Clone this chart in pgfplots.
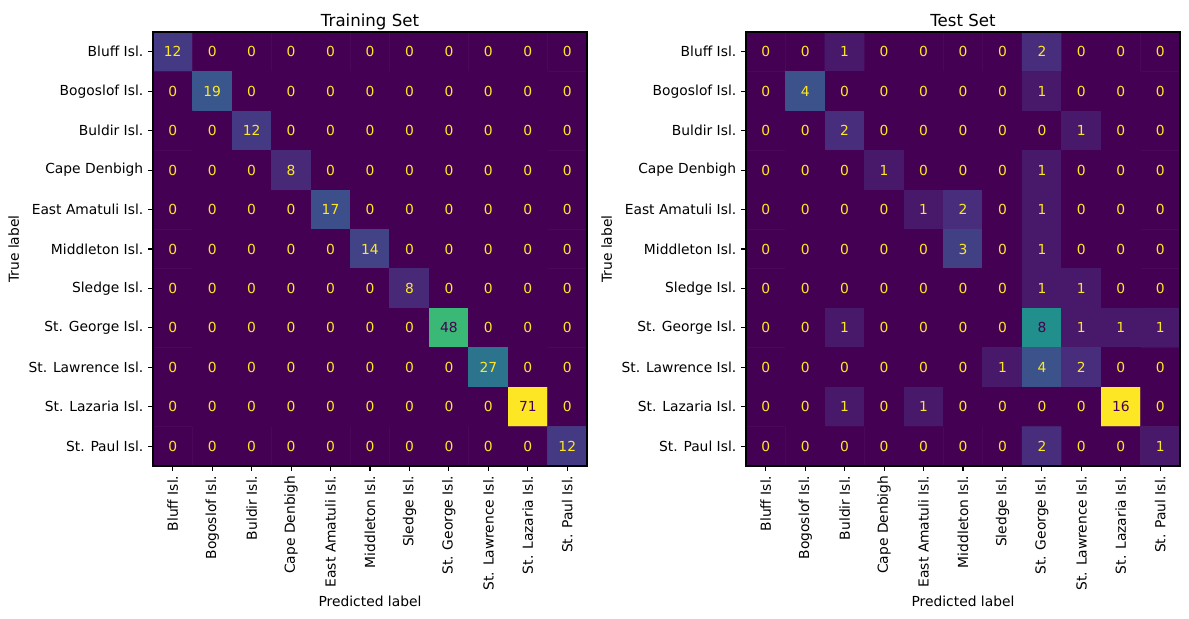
\documentclass[border=0pt]{standalone}
\usepackage{pgfplots}
\usepackage{pgfplotstable}
\pgfplotsset{compat=1.18}
\usepackage{fontspec}
\setmainfont{DejaVu Sans}

\definecolor{vyel}{RGB}{253,231,37}
\definecolor{vdark}{RGB}{68,1,84}

% confusion matrix, training set: x = predicted, y = true, c = count
\pgfplotstableread[row sep=\\]{
x y c\\
0 0 12\\ 1 0 0\\ 2 0 0\\ 3 0 0\\ 4 0 0\\ 5 0 0\\ 6 0 0\\ 7 0 0\\ 8 0 0\\ 9 0 0\\ 10 0 0\\
0 1 0\\ 1 1 19\\ 2 1 0\\ 3 1 0\\ 4 1 0\\ 5 1 0\\ 6 1 0\\ 7 1 0\\ 8 1 0\\ 9 1 0\\ 10 1 0\\
0 2 0\\ 1 2 0\\ 2 2 12\\ 3 2 0\\ 4 2 0\\ 5 2 0\\ 6 2 0\\ 7 2 0\\ 8 2 0\\ 9 2 0\\ 10 2 0\\
0 3 0\\ 1 3 0\\ 2 3 0\\ 3 3 8\\ 4 3 0\\ 5 3 0\\ 6 3 0\\ 7 3 0\\ 8 3 0\\ 9 3 0\\ 10 3 0\\
0 4 0\\ 1 4 0\\ 2 4 0\\ 3 4 0\\ 4 4 17\\ 5 4 0\\ 6 4 0\\ 7 4 0\\ 8 4 0\\ 9 4 0\\ 10 4 0\\
0 5 0\\ 1 5 0\\ 2 5 0\\ 3 5 0\\ 4 5 0\\ 5 5 14\\ 6 5 0\\ 7 5 0\\ 8 5 0\\ 9 5 0\\ 10 5 0\\
0 6 0\\ 1 6 0\\ 2 6 0\\ 3 6 0\\ 4 6 0\\ 5 6 0\\ 6 6 8\\ 7 6 0\\ 8 6 0\\ 9 6 0\\ 10 6 0\\
0 7 0\\ 1 7 0\\ 2 7 0\\ 3 7 0\\ 4 7 0\\ 5 7 0\\ 6 7 0\\ 7 7 48\\ 8 7 0\\ 9 7 0\\ 10 7 0\\
0 8 0\\ 1 8 0\\ 2 8 0\\ 3 8 0\\ 4 8 0\\ 5 8 0\\ 6 8 0\\ 7 8 0\\ 8 8 27\\ 9 8 0\\ 10 8 0\\
0 9 0\\ 1 9 0\\ 2 9 0\\ 3 9 0\\ 4 9 0\\ 5 9 0\\ 6 9 0\\ 7 9 0\\ 8 9 0\\ 9 9 71\\ 10 9 0\\
0 10 0\\ 1 10 0\\ 2 10 0\\ 3 10 0\\ 4 10 0\\ 5 10 0\\ 6 10 0\\ 7 10 0\\ 8 10 0\\ 9 10 0\\ 10 10 12\\
}\trainmat

% confusion matrix, test set
\pgfplotstableread[row sep=\\]{
x y c\\
0 0 0\\ 1 0 0\\ 2 0 1\\ 3 0 0\\ 4 0 0\\ 5 0 0\\ 6 0 0\\ 7 0 2\\ 8 0 0\\ 9 0 0\\ 10 0 0\\
0 1 0\\ 1 1 4\\ 2 1 0\\ 3 1 0\\ 4 1 0\\ 5 1 0\\ 6 1 0\\ 7 1 1\\ 8 1 0\\ 9 1 0\\ 10 1 0\\
0 2 0\\ 1 2 0\\ 2 2 2\\ 3 2 0\\ 4 2 0\\ 5 2 0\\ 6 2 0\\ 7 2 0\\ 8 2 1\\ 9 2 0\\ 10 2 0\\
0 3 0\\ 1 3 0\\ 2 3 0\\ 3 3 1\\ 4 3 0\\ 5 3 0\\ 6 3 0\\ 7 3 1\\ 8 3 0\\ 9 3 0\\ 10 3 0\\
0 4 0\\ 1 4 0\\ 2 4 0\\ 3 4 0\\ 4 4 1\\ 5 4 2\\ 6 4 0\\ 7 4 1\\ 8 4 0\\ 9 4 0\\ 10 4 0\\
0 5 0\\ 1 5 0\\ 2 5 0\\ 3 5 0\\ 4 5 0\\ 5 5 3\\ 6 5 0\\ 7 5 1\\ 8 5 0\\ 9 5 0\\ 10 5 0\\
0 6 0\\ 1 6 0\\ 2 6 0\\ 3 6 0\\ 4 6 0\\ 5 6 0\\ 6 6 0\\ 7 6 1\\ 8 6 1\\ 9 6 0\\ 10 6 0\\
0 7 0\\ 1 7 0\\ 2 7 1\\ 3 7 0\\ 4 7 0\\ 5 7 0\\ 6 7 0\\ 7 7 8\\ 8 7 1\\ 9 7 1\\ 10 7 1\\
0 8 0\\ 1 8 0\\ 2 8 0\\ 3 8 0\\ 4 8 0\\ 5 8 0\\ 6 8 1\\ 7 8 4\\ 8 8 2\\ 9 8 0\\ 10 8 0\\
0 9 0\\ 1 9 0\\ 2 9 1\\ 3 9 0\\ 4 9 1\\ 5 9 0\\ 6 9 0\\ 7 9 0\\ 8 9 0\\ 9 9 16\\ 10 9 0\\
0 10 0\\ 1 10 0\\ 2 10 0\\ 3 10 0\\ 4 10 0\\ 5 10 0\\ 6 10 0\\ 7 10 2\\ 8 10 0\\ 9 10 0\\ 10 10 1\\
}\testmat

\pgfplotsset{
  cmstyle/.style={
    scale only axis,
    width=4.34in, height=4.34in,
    colormap name=viridis,
    xmin=-0.5, xmax=10.5, ymin=-0.5, ymax=10.5,
    y dir=reverse,
    axis line style={black, line width=0.8pt},
    xtick={0,...,10}, ytick={0,...,10},
    xticklabels={Bluff Isl.,Bogoslof Isl.,Buldir Isl.,Cape Denbigh,East Amatuli Isl.,Middleton Isl.,Sledge Isl.,St. George Isl.,St. Lawrence Isl.,St. Lazaria Isl.,St. Paul Isl.},
    yticklabels={Bluff Isl.,Bogoslof Isl.,Buldir Isl.,Cape Denbigh,East Amatuli Isl.,Middleton Isl.,Sledge Isl.,St. George Isl.,St. Lawrence Isl.,St. Lazaria Isl.,St. Paul Isl.},
    tick align=outside, tick pos=left,
    major tick length=3.5pt,
    every tick/.style={black, line width=0.8pt},
    tick label style={font=\fontsize{10}{12}\selectfont, text=black},
    xticklabel style={rotate=90, anchor=east},
    xlabel={Predicted label}, ylabel={True label},
    label style={font=\fontsize{10}{12}\selectfont},
    xlabel style={at={(0.5,0)}, anchor=base, yshift=-101.5pt},
    title style={font=\fontsize{12}{14}\selectfont, at={(0.5,1)}, anchor=base, yshift=-1.8pt},
    axis on top,
  },
  cellvals/.style={
    draw=none, mark=none, forget plot,
    point meta=\thisrow{c},
    visualization depends on={\thisrow{c} \as \cval},
    nodes near coords={\ifdim\cval pt<#1pt\relax\textcolor{vyel}{\pgfmathprintnumber[assume math mode=true]{\cval}}\else\textcolor{vdark}{\pgfmathprintnumber[assume math mode=true]{\cval}}\fi},
    every node near coord/.append style={anchor=center, font=\fontsize{10}{12}\selectfont, inner sep=0pt},
  },
}

\begin{document}
\begin{tikzpicture}
\useasboundingbox (0,0) rectangle (11.89in,6.19in);

\begin{axis}[cmstyle, at={(1.53in,1.53in)}, anchor=south west, title={Training Set}]
  \addplot[matrix plot*, mesh/cols=11, point meta=\thisrow{c}] table[x=x, y=y] {\trainmat};
  \addplot[cellvals=35.5] table[x=x, y=y] {\trainmat};
\end{axis}

\begin{axis}[cmstyle, at={(7.46in,1.53in)}, anchor=south west, title={Test Set}]
  \addplot[matrix plot*, mesh/cols=11, point meta=\thisrow{c}] table[x=x, y=y] {\testmat};
  \addplot[cellvals=8] table[x=x, y=y] {\testmat};
\end{axis}
\end{tikzpicture}
\end{document}
